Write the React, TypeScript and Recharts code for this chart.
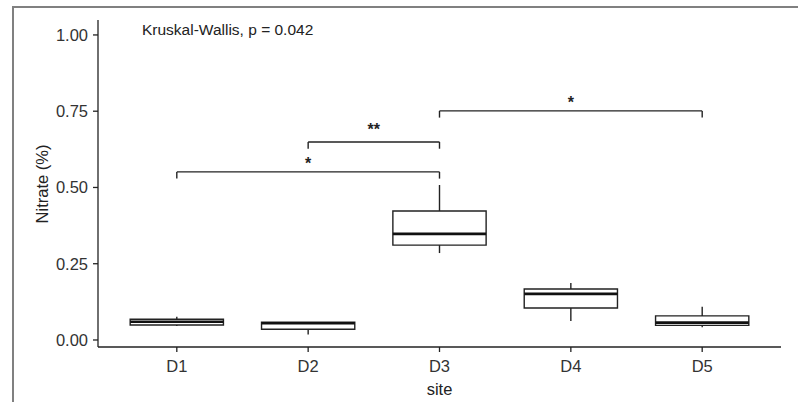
import React from 'react';
import {
  ComposedChart,
  Scatter,
  XAxis,
  YAxis,
  ReferenceArea,
  ReferenceLine,
  ReferenceDot,
} from 'recharts';

// box plot stats per site
const sites = ['D1', 'D2', 'D3', 'D4', 'D5'];
const mins = [0.046, 0.018, 0.285, 0.062, 0.042];
const q1s = [0.049, 0.035, 0.311, 0.105, 0.048];
const medians = [0.06, 0.055, 0.348, 0.151, 0.057];
const q3s = [0.068, 0.058, 0.423, 0.167, 0.079];
const maxs = [0.076, 0.058, 0.508, 0.187, 0.109];

// pairwise comparisons
const pairFrom = [1, 2, 3];
const pairTo = [3, 3, 5];
const pairY = [0.551, 0.649, 0.751];
const pairLabels = ['*', '**', '*'];
const pairLabelY = [0.578, 0.69, 0.778];

const yTicks = [0, 0.25, 0.5, 0.75, 1];

const FONT = '"Liberation Sans", Arial, sans-serif';
const HALF = 0.355;
const TICK = 0.022;

const points = sites.map((s, i) => ({ x: i + 1, y: medians[i], site: s }));

const App: React.FC = () => {
  return (
    <div style={{ position: 'absolute', left: 0, top: 0, width: 798, height: 402, background: '#fff', fontFamily: FONT }}>
      {/* frame */}
      <div style={{ position: 'absolute', left: 13, top: 6, width: 785, height: 2, background: '#808080' }} />
      <div style={{ position: 'absolute', left: 12, top: 6, width: 2, height: 396, background: '#808080' }} />

      <ComposedChart
        width={798}
        height={402}
        data={points}
        margin={{ top: 20, right: 17, bottom: 0, left: 0 }}
        style={{ position: 'absolute', left: 0, top: 0 }}
      >
        <XAxis
          type="number"
          dataKey="x"
          domain={[0.4, 5.6]}
          ticks={[1, 2, 3, 4, 5]}
          tickFormatter={(v: number) => sites[v - 1]}
          height={55}
          stroke="#222"
          strokeWidth={1.3}
          tickSize={5}
          tickMargin={8}
          tick={{ fill: '#333', fontSize: 16.5, fontFamily: FONT }}
          allowDataOverflow
        />
        <YAxis
          type="number"
          domain={[-0.023, 1.049]}
          ticks={yTicks}
          tickFormatter={(v: number) => v.toFixed(2)}
          width={98}
          stroke="#222"
          strokeWidth={1.3}
          tickSize={5}
          tickMargin={5}
          tick={{ fill: '#333', fontSize: 16.5, fontFamily: FONT }}
          allowDataOverflow
        />

        {/* whiskers */}
        {sites.map((s, i) => (
          <ReferenceLine
            key={`wu-${s}`}
            segment={[{ x: i + 1, y: q3s[i] }, { x: i + 1, y: maxs[i] }]}
            stroke="#222"
            strokeWidth={1.4}
          />
        ))}
        {sites.map((s, i) => (
          <ReferenceLine
            key={`wl-${s}`}
            segment={[{ x: i + 1, y: mins[i] }, { x: i + 1, y: q1s[i] }]}
            stroke="#222"
            strokeWidth={1.4}
          />
        ))}

        {/* boxes */}
        {sites.map((s, i) => (
          <ReferenceArea
            key={`box-${s}`}
            x1={i + 1 - HALF}
            x2={i + 1 + HALF}
            y1={q1s[i]}
            y2={q3s[i]}
            fill="#fff"
            fillOpacity={1}
            stroke="#222"
            strokeWidth={1.4}
          />
        ))}
        {sites.map((s, i) => (
          <ReferenceLine
            key={`med-${s}`}
            segment={[{ x: i + 1 - HALF, y: medians[i] }, { x: i + 1 + HALF, y: medians[i] }]}
            stroke="#111"
            strokeWidth={2.6}
          />
        ))}

        {/* comparison brackets */}
        {pairFrom.map((a, i) => (
          <ReferenceLine
            key={`bh-${i}`}
            segment={[{ x: a, y: pairY[i] }, { x: pairTo[i], y: pairY[i] }]}
            stroke="#222"
            strokeWidth={1.4}
          />
        ))}
        {pairFrom.map((a, i) => (
          <ReferenceLine
            key={`bl-${i}`}
            segment={[{ x: a, y: pairY[i] - TICK }, { x: a, y: pairY[i] }]}
            stroke="#222"
            strokeWidth={1.4}
          />
        ))}
        {pairTo.map((b, i) => (
          <ReferenceLine
            key={`br-${i}`}
            segment={[{ x: b, y: pairY[i] - TICK }, { x: b, y: pairY[i] }]}
            stroke="#222"
            strokeWidth={1.4}
          />
        ))}
        {pairFrom.map((a, i) => (
          <ReferenceDot
            key={`bt-${i}`}
            x={(a + pairTo[i]) / 2}
            y={pairLabelY[i]}
            r={0}
            stroke="none"
            label={{ value: pairLabels[i], position: 'center', fill: '#222', fontSize: 16, fontWeight: 'bold', fontFamily: FONT }}
          />
        ))}

        <Scatter dataKey="y" isAnimationActive={false} shape={() => <g />} />
      </ComposedChart>

      {/* title and axis titles */}
      <div style={{ position: 'absolute', left: 142, top: 22, fontSize: 15.5, lineHeight: 1, color: '#222', whiteSpace: 'nowrap' }}>
        Kruskal-Wallis, p = 0.042
      </div>
      <div style={{ position: 'absolute', left: 439.5, top: 381, transform: 'translateX(-50%)', fontSize: 16.5, lineHeight: 1, color: '#222', whiteSpace: 'nowrap' }}>
        site
      </div>
      <div style={{ position: 'absolute', left: 42.3, top: 183.5, transform: 'translate(-50%, -50%) rotate(-90deg)', fontSize: 16.5, lineHeight: 1, color: '#222', whiteSpace: 'nowrap' }}>
        Nitrate (%)
      </div>
    </div>
  );
};

export default App;
